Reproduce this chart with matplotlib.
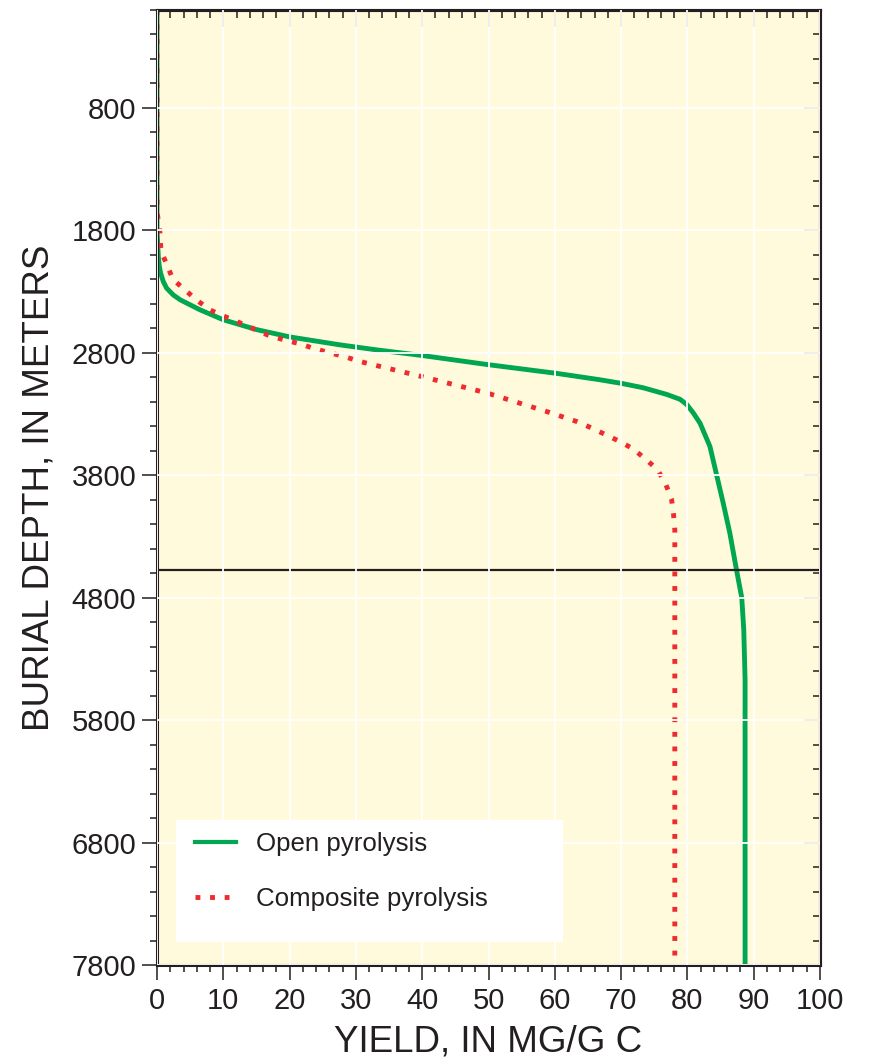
import matplotlib
matplotlib.use("Agg")
import matplotlib.pyplot as plt
from matplotlib.ticker import MultipleLocator, FixedLocator, NullFormatter
from matplotlib.lines import Line2D
from matplotlib.patches import Rectangle

plt.rcParams['font.family'] = ['Liberation Sans', 'DejaVu Sans']

# ---- data ----
open_yield = [0, 0, 0.2, 0.35, 0.55, 0.95, 1.45, 2.45, 3.5, 5.0, 6.5, 10, 15, 20, 27.6,
              33, 40, 49.7, 60.3, 66.8, 70.1, 73.3, 76.9, 78.9, 79.9, 80.9, 81.9, 82.65,
              83.4, 84.4, 85.4, 86.4, 87.4, 88.2, 88.5, 88.7, 88.7]
open_depth = [0, 1800, 2014, 2095, 2150, 2218, 2272, 2327, 2367, 2408, 2449, 2530, 2610,
              2670, 2735, 2775, 2822, 2895, 2968, 3020, 3050, 3085, 3140, 3180, 3222,
              3292, 3374, 3469, 3565, 3796, 4027, 4272, 4571, 4800, 5061, 5470, 7800]

comp_yield = [0, 0, 0.15, 0.45, 0.6, 1.5, 2.4, 4.2, 6.0, 8.0, 10.3, 12.5, 14.6, 16.7,
              19.2, 21.6, 23.8, 28.4, 30.6, 40.1, 49.7, 58.8, 63.3, 65.6, 69.8, 71.8,
              73.8, 75.5, 76.7, 77.6, 77.9, 78.1, 78.1]
comp_depth = [0, 1650, 1700, 1820, 1970, 2080, 2200, 2285, 2370, 2450, 2505, 2555, 2605,
              2655, 2695, 2727, 2767, 2833, 2871, 2996, 3127, 3280, 3361, 3415, 3524,
              3584, 3673, 3755, 3869, 3992, 4114, 4245, 7800]

ref_depth = 4570
y_major_ticks = [800, 1800, 2800, 3800, 4800, 5800, 6800, 7800]
x_ticks = [0, 10, 20, 30, 40, 50, 60, 70, 80, 90, 100]
series_labels = ["Open pyrolysis", "Composite pyrolysis"]

GREEN = '#00A651'
RED = '#EE2B2E'
BG = '#FFFADC'
DARK = '#231F20'

fig = plt.figure(figsize=(8.69, 10.64), dpi=100)
ax = fig.add_axes([157/869, 1 - 965/1064, 663/869, 955/1064])
ax.set_facecolor(BG)

ax.plot(open_yield, open_depth, color=GREEN, lw=3.5, solid_capstyle='butt',
        solid_joinstyle='round', zorder=2)
ax.plot(comp_yield, comp_depth, color=RED, lw=3.5, linestyle=(0, (1, 2)),
        dash_capstyle='butt', zorder=2.1)
ax.axhline(ref_depth, color=DARK, lw=1.6, zorder=2)

ax.set_xlim(0, 100)
ax.set_ylim(7800, 0)

ax.set_axisbelow(False)
ax.xaxis.set_major_locator(FixedLocator(x_ticks))
ax.xaxis.set_minor_locator(MultipleLocator(2))
ax.yaxis.set_major_locator(FixedLocator(y_major_ticks))
ax.yaxis.set_minor_locator(MultipleLocator(200))
ax.grid(True, which='major', color='white', lw=1.3)

ax.tick_params(which='major', direction='out', length=11, width=1.1, color=DARK,
               labelsize=21, labelcolor=DARK)
ax.tick_params(which='minor', direction='out', length=5, width=1.1, color=DARK)
ax.tick_params(axis='x', which='major', pad=5)
ax.tick_params(axis='y', which='major', pad=4)

for s in ax.spines.values():
    s.set_linewidth(2.2)
    s.set_color(DARK)

# top and right inward ticks
secx = ax.secondary_xaxis('top')
secx.xaxis.set_major_locator(FixedLocator(x_ticks))
secx.xaxis.set_minor_locator(MultipleLocator(2))
secx.xaxis.set_major_formatter(NullFormatter())
secx.tick_params(which='major', direction='in', length=12, width=1.1, color=DARK)
secx.tick_params(which='minor', direction='in', length=6, width=1.1, color=DARK)
secx.spines['top'].set_linewidth(2.2)

secy = ax.secondary_yaxis('right')
secy.yaxis.set_major_locator(FixedLocator(y_major_ticks))
secy.yaxis.set_minor_locator(MultipleLocator(200))
secy.yaxis.set_major_formatter(NullFormatter())
secy.tick_params(which='major', direction='in', length=11.5, width=1.1, color=DARK)
secy.tick_params(which='minor', direction='in', length=5, width=1.1, color=DARK)
secy.spines['right'].set_linewidth(2.2)

ax.set_xlabel("YIELD, IN MG/G C", fontsize=26.5, color=DARK, labelpad=7)
ax.set_ylabel("BURIAL DEPTH, IN METERS", fontsize=26.5, color=DARK, labelpad=11)

# legend background box
ax.add_patch(Rectangle((19/663, 1 - (942-10)/955), (563-176)/663, (942-820)/955,
                       transform=ax.transAxes, facecolor='white', edgecolor='none',
                       zorder=3))
handles = [Line2D([], [], color=GREEN, lw=3.0),
           Line2D([], [], color=RED, lw=3.5, linestyle=(0, (1, 2)), dash_capstyle='butt')]
leg = ax.legend(handles, series_labels, loc='upper left',
                bbox_to_anchor=(38/663, 1 - (832-10)/955), frameon=False,
                fontsize=18.6, handlelength=1.6, handletextpad=0.75,
                labelspacing=1.2, borderpad=0, borderaxespad=0)
leg.set_zorder(4)
for t in leg.get_texts():
    t.set_color(DARK)

fig.savefig("out.png", dpi=100)
